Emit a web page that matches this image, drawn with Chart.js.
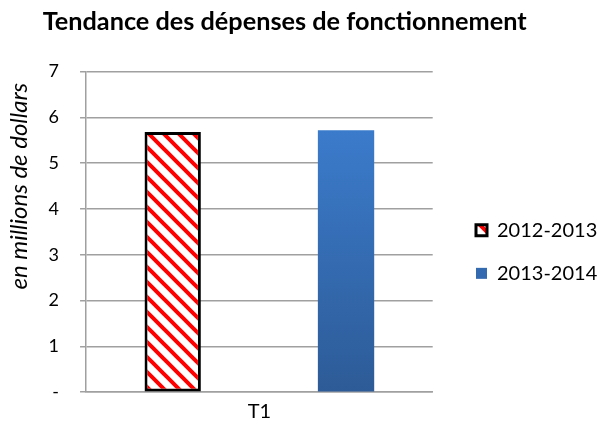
<!DOCTYPE html>
<html>
<head>
<meta charset="utf-8">
<script src="https://cdn.jsdelivr.net/npm/chart.js@4.4.1/dist/chart.umd.min.js"></script>
<style>
  html, body { margin: 0; padding: 0; background: #fff; }
  #wrap { width: 600px; height: 424px; }
</style>
</head>
<body>
<div id="wrap"><canvas id="chart" width="600" height="424"></canvas></div>
<script>
const categories = ["T1"];
const seriesNames = ["2012-2013", "2013-2014"];
const values2012 = [5.68];
const values2013 = [5.72];
const yMin = 0;
const yMax = 7;
const yStep = 1;

const FONT = "Lato, 'Open Sans', sans-serif";
const GRID = "#a0a0a0";
const NBSP = "\u00a0";

const ctx = document.getElementById("chart").getContext("2d");

// red / white diagonal hatch for 2012-2013
function makeHatch() {
  const size = 15;
  const c = document.createElement("canvas");
  c.width = size;
  c.height = size;
  const g = c.getContext("2d");
  g.fillStyle = "#ffffff";
  g.fillRect(0, 0, size, size);
  g.strokeStyle = "#ff0000";
  g.lineWidth = 4;
  g.beginPath();
  g.moveTo(-size, -size); g.lineTo(size * 2, size * 2);
  g.moveTo(-size, 0); g.lineTo(size, size * 2);
  g.moveTo(0, -size); g.lineTo(size * 2, size);
  g.stroke();
  return ctx.createPattern(c, "repeat");
}
const hatch = makeHatch();

// blue vertical gradient for 2013-2014, top of bar to baseline
function blueFill(context) {
  const chart = context.chart;
  const y = chart.scales.y;
  if (!chart.chartArea || !y) return "#3a78c6";
  const v = context.dataset.data[context.dataIndex || 0];
  const top = y.getPixelForValue(v);
  const bottom = y.getPixelForValue(0);
  const g = chart.ctx.createLinearGradient(0, top, 0, bottom);
  g.addColorStop(0, "#3b7bcb");
  g.addColorStop(1, "#2d5b97");
  return g;
}

new Chart(ctx, {
  type: "bar",
  data: {
    labels: categories,
    datasets: [
      {
        label: seriesNames[0],
        data: values2012,
        backgroundColor: hatch,
        borderColor: "#000000",
        borderWidth: 3,
        borderSkipped: false,
        barPercentage: 0.325,
        categoryPercentage: 1.0,
      },
      {
        label: seriesNames[1],
        data: values2013,
        backgroundColor: blueFill,
        borderWidth: 0,
        barPercentage: 0.325,
        categoryPercentage: 1.0,
      },
    ],
  },
  options: {
    responsive: false,
    animation: false,
    layout: {
      // tick padding counts twice in Chart.js, so pull the bottom back down
      padding: { left: 0, right: 0, top: 0, bottom: -9.7 },
    },
    plugins: {
      title: {
        display: true,
        // trailing spaces pull the centred title a bit to the left, as in the original
        text: "Tendance des dépenses de fonctionnement" + NBSP.repeat(5),
        color: "#000",
        font: { family: FONT, size: 25.25, weight: "bold" },
        padding: { top: 7, bottom: 34.3 },
      },
      legend: {
        position: "right",
        maxWidth: 147,
        // empty title only pushes the two items down a little
        title: {
          display: true,
          text: "",
          font: { size: 10 },
          padding: { top: 58, bottom: 0 },
        },
        labels: {
          color: "#000",
          boxWidth: 11,
          boxHeight: 11,
          padding: 23,
          font: { family: FONT, size: 20 },
        },
      },
      tooltip: { enabled: false },
    },
    scales: {
      x: {
        grid: { display: false, drawTicks: false },
        border: { display: true, color: GRID, width: 1.5 },
        ticks: {
          color: "#000",
          padding: 9,
          font: { family: FONT, size: 20, lineHeight: 1 },
        },
      },
      y: {
        min: yMin,
        max: yMax,
        grid: { color: GRID, lineWidth: 1.5, tickLength: 6 },
        border: { color: GRID, width: 1.5 },
        ticks: {
          stepSize: yStep,
          color: "#000",
          padding: 21,
          font: { family: FONT, size: 18 },
          callback: (v) => (v === 0 ? "-" : v),
        },
        title: {
          display: true,
          align: "end",
          text: "en millions de dollars" + NBSP.repeat(2),
          color: "#000",
          font: { family: FONT, size: 24, style: "italic", lineHeight: 1 },
          padding: { top: 7, bottom: -3.4 },
        },
      },
      // empty spacer between plot and legend
      gap: {
        type: "linear",
        position: "right",
        min: 0,
        max: 1,
        grid: { display: false, drawTicks: false },
        border: { display: false },
        ticks: { display: false },
        afterFit: (s) => { s.width = 20.3; },
      },
    },
  },
});
</script>
</body>
</html>
